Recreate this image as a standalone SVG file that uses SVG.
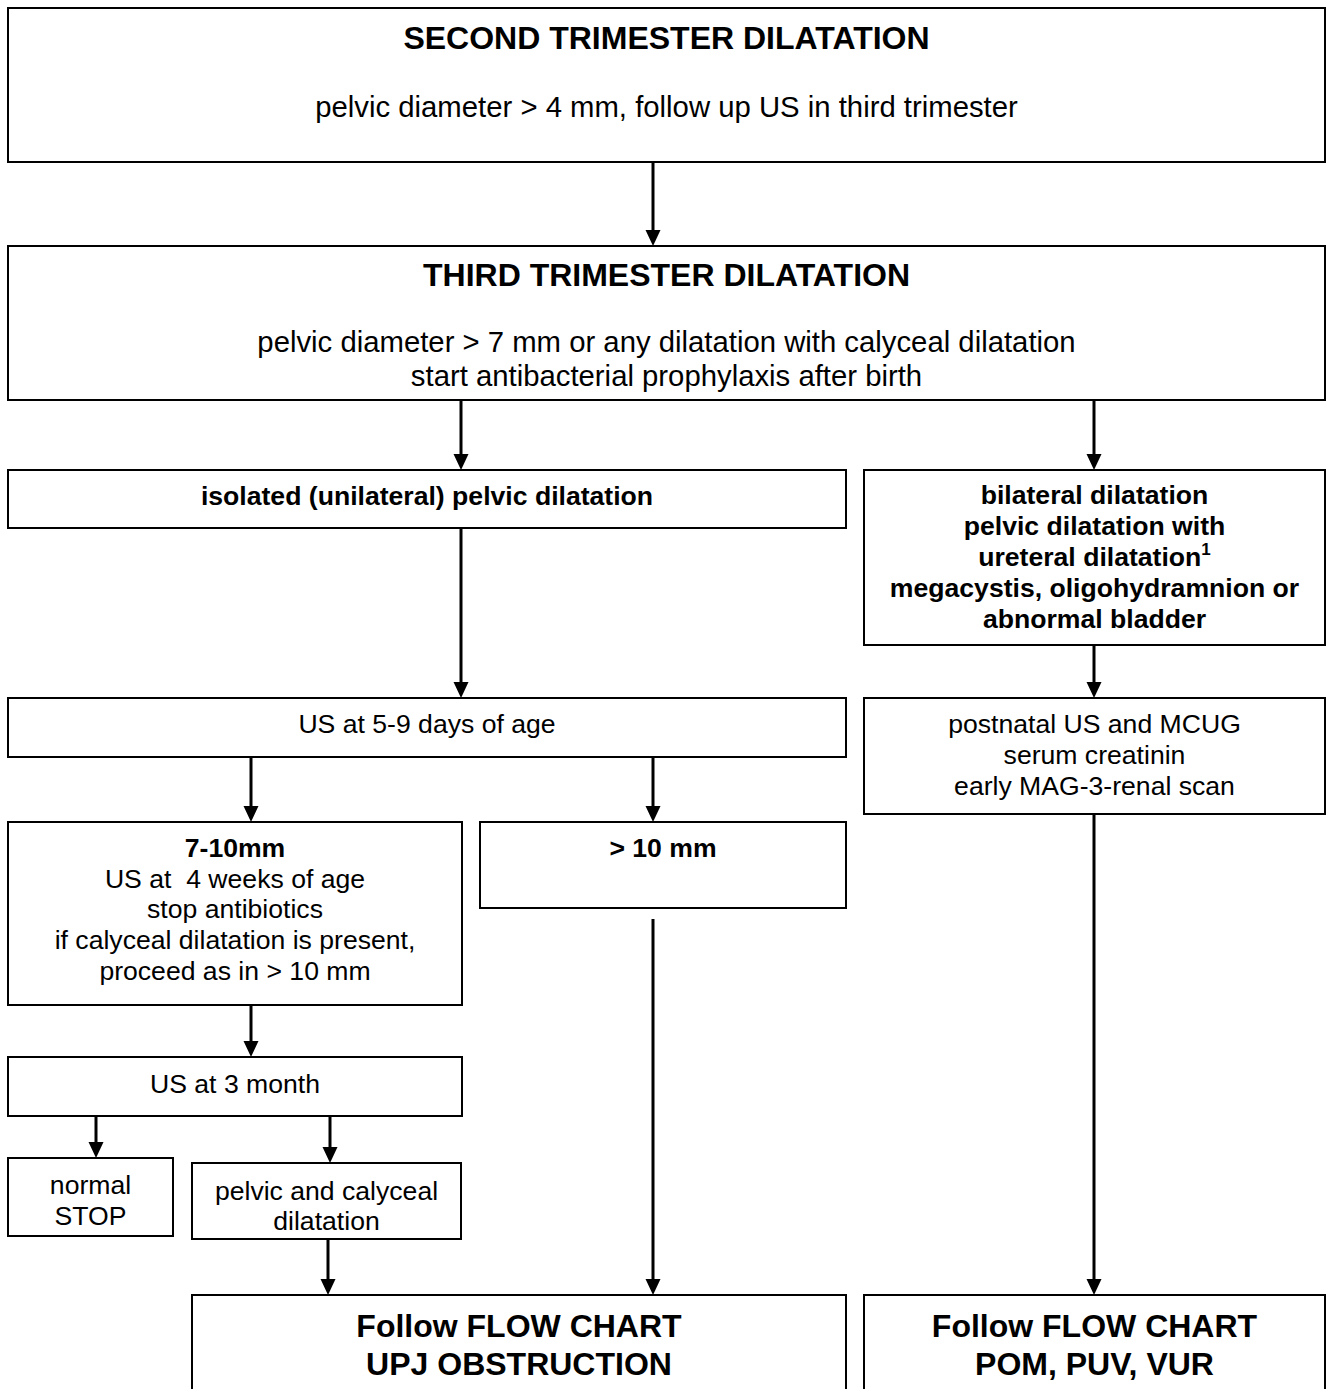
<svg xmlns="http://www.w3.org/2000/svg" width="1329" height="1389" viewBox="0 0 1329 1389">
<style>
.box{fill:#fff;stroke:#000;stroke-width:2}
text{font-family:"Liberation Sans",Arial,sans-serif;fill:#000;text-anchor:middle}
.t{font-size:32px;font-weight:bold}
.l{font-size:29.3px}
.s{font-size:26.6px}
.b{font-size:26.6px;font-weight:bold}
.c{stroke:#000;stroke-width:3;fill:none;marker-end:url(#ah)}
</style>
<defs>
<marker id="ah" markerUnits="userSpaceOnUse" markerWidth="16" markerHeight="16" refX="1" refY="7.5" orient="auto">
<path d="M0,0 L16,7.5 L0,15 z" fill="#000"/>
</marker>
</defs>
<rect width="1329" height="1389" fill="#fff"/>
<g id="n1"><rect class="box" x="8" y="8" width="1317" height="154"/>
<text class="t" x="666.5" y="49">SECOND TRIMESTER DILATATION</text>
<text class="l" x="666.5" y="117">pelvic diameter &gt; 4 mm, follow up US in third trimester</text></g>
<g id="n2"><rect class="box" x="8" y="246" width="1317" height="154"/>
<text class="t" x="666.5" y="286">THIRD TRIMESTER DILATATION</text>
<text class="l" x="666.5" y="352">pelvic diameter &gt; 7 mm or any dilatation with calyceal dilatation</text>
<text class="l" x="666.5" y="386">start antibacterial prophylaxis after birth</text></g>
<g id="n3"><rect class="box" x="8" y="470" width="838" height="58"/>
<text class="b" x="427" y="505">isolated (unilateral) pelvic dilatation</text></g>
<g id="n4"><rect class="box" x="864" y="470" width="461" height="175"/>
<text class="b" x="1094.5" y="504">bilateral dilatation</text>
<text class="b" x="1094.5" y="535">pelvic dilatation with</text>
<text class="b" x="1094.5" y="566">ureteral dilatation<tspan font-size="17" dy="-11">1</tspan></text>
<text class="b" x="1094.5" y="597">megacystis, oligohydramnion or</text>
<text class="b" x="1094.5" y="628">abnormal bladder</text></g>
<g id="n5"><rect class="box" x="8" y="698" width="838" height="59"/>
<text class="s" x="427" y="733">US at 5-9 days of age</text></g>
<g id="n6"><rect class="box" x="864" y="698" width="461" height="116"/>
<text class="s" x="1094.5" y="733">postnatal US and MCUG</text>
<text class="s" x="1094.5" y="764">serum creatinin</text>
<text class="s" x="1094.5" y="795">early MAG-3-renal scan</text></g>
<g id="n7"><rect class="box" x="8" y="822" width="454" height="183"/>
<text class="b" x="235" y="857">7-10mm</text>
<text class="s" x="235" y="888" xml:space="preserve">US at  4 weeks of age</text>
<text class="s" x="235" y="918">stop antibiotics</text>
<text class="s" x="235" y="949">if calyceal dilatation is present,</text>
<text class="s" x="235" y="980">proceed as in &gt; 10 mm</text></g>
<g id="n8"><rect class="box" x="480" y="822" width="366" height="86"/>
<text class="b" x="663" y="857">&gt; 10 mm</text></g>
<g id="n9"><rect class="box" x="8" y="1057" width="454" height="59"/>
<text class="s" x="235" y="1093">US at 3 month</text></g>
<g id="n10"><rect class="box" x="8" y="1158" width="165" height="78"/>
<text class="s" x="90.5" y="1194">normal</text>
<text class="s" x="90.5" y="1225">STOP</text></g>
<g id="n11"><rect class="box" x="192" y="1163" width="269" height="76"/>
<text class="s" x="326.5" y="1200">pelvic and calyceal</text>
<text class="s" x="326.5" y="1230">dilatation</text></g>
<g id="n12"><rect class="box" x="192" y="1295" width="654" height="110"/>
<text class="t" x="519" y="1337">Follow FLOW CHART</text>
<text class="t" x="519" y="1375">UPJ OBSTRUCTION</text></g>
<g id="n13"><rect class="box" x="864" y="1295" width="461" height="110"/>
<text class="t" x="1094.5" y="1337">Follow FLOW CHART</text>
<text class="t" x="1094.5" y="1375">POM, PUV, VUR</text></g>
<g id="connectors">
<line class="c" x1="653" y1="162" x2="653" y2="231"/>
<line class="c" x1="461" y1="400" x2="461" y2="455"/>
<line class="c" x1="1094" y1="400" x2="1094" y2="455"/>
<line class="c" x1="461" y1="528" x2="461" y2="683"/>
<line class="c" x1="1094" y1="645" x2="1094" y2="683"/>
<line class="c" x1="251" y1="757" x2="251" y2="807"/>
<line class="c" x1="653" y1="757" x2="653" y2="807"/>
<line class="c" x1="251" y1="1005" x2="251" y2="1042"/>
<line class="c" x1="96" y1="1116" x2="96" y2="1143"/>
<line class="c" x1="330" y1="1116" x2="330" y2="1148"/>
<line class="c" x1="328" y1="1239" x2="328" y2="1280"/>
<line class="c" x1="653" y1="919" x2="653" y2="1280"/>
<line class="c" x1="1094" y1="814" x2="1094" y2="1280"/>
</g>
</svg>
